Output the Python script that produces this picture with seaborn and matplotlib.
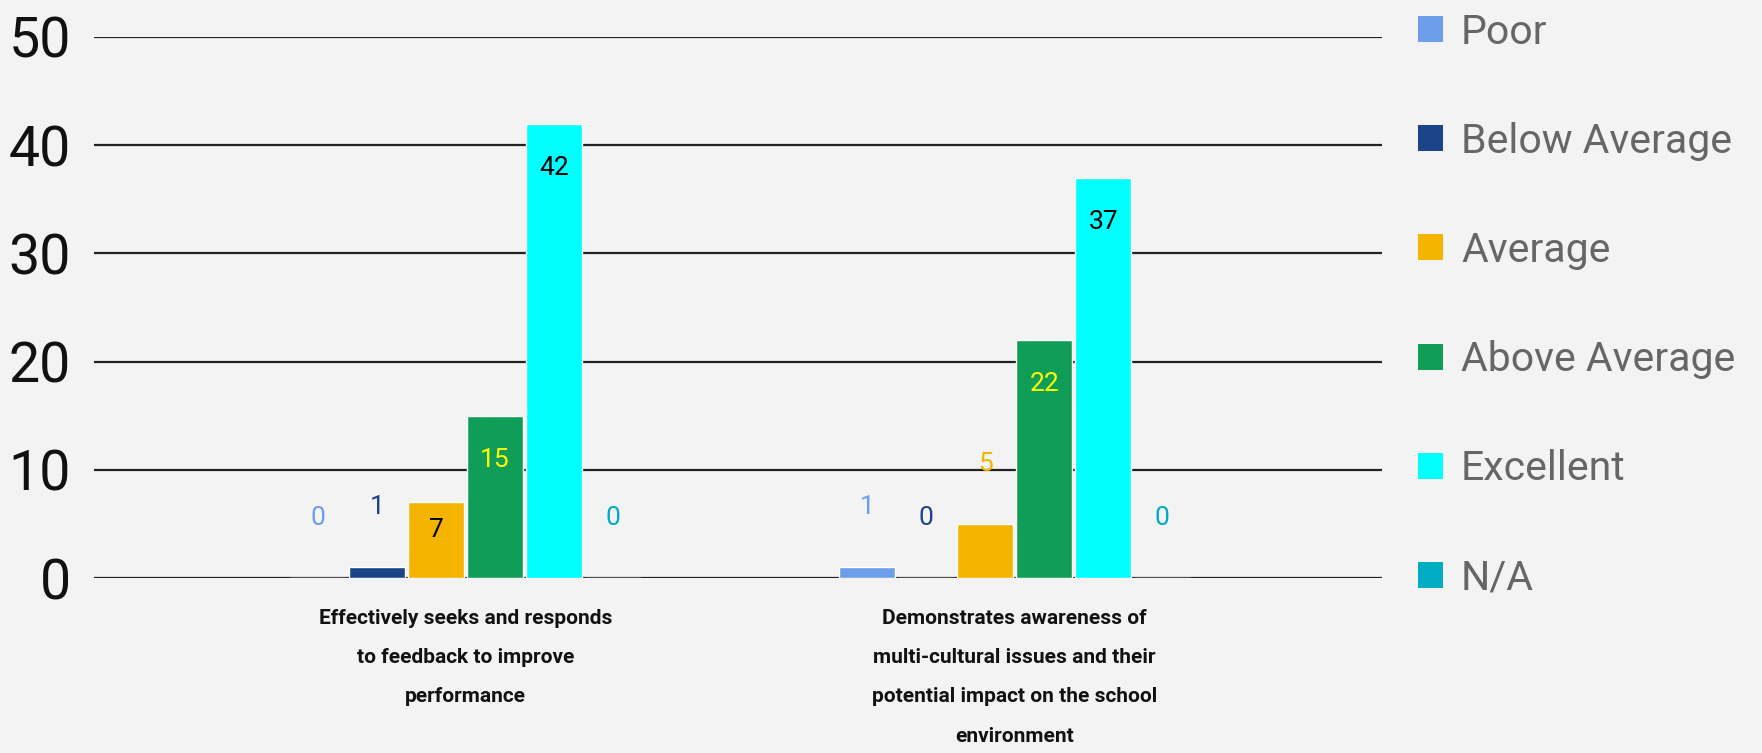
import matplotlib

matplotlib.use("Agg")
import matplotlib.pyplot as plt
import pandas as pd
import seaborn as sns
from matplotlib.patches import Patch

sns.set_theme(style="white")
plt.rcParams["font.family"] = ["Roboto", "DejaVu Sans"]

# data
items = [
    "Effectively seeks and responds\nto feedback to improve\nperformance",
    "Demonstrates awareness of\nmulti-cultural issues and their\npotential impact on the school\nenvironment",
]
ratings = ["Poor", "Below Average", "Average", "Above Average", "Excellent", "N/A"]
feedback_counts = [0, 1, 7, 15, 42, 0]
multicultural_counts = [1, 0, 5, 22, 37, 0]
yticks = [0, 10, 20, 30, 40, 50]

colors = ["#6d9eeb", "#1c4587", "#f4b400", "#0f9d58", "#00ffff", "#00acc1"]
inside_colors = ["#000000", "#ffffff", "#000000", "#ffff00", "#000000", "#000000"]

rows = []
for item, counts in zip(items, [feedback_counts, multicultural_counts]):
    for r, c in zip(ratings, counts):
        rows.append({"item": item, "rating": r, "count": c})
df = pd.DataFrame(rows)

bg = "#f3f3f3"
fig = plt.figure(figsize=(17.62, 7.53), dpi=100, facecolor=bg)
ax = fig.add_axes([0.0536, 0.2324, 0.731, 0.7185])
ax.set_facecolor(bg)

sns.barplot(
    data=df,
    x="item",
    y="count",
    hue="rating",
    hue_order=ratings,
    order=items,
    palette=dict(zip(ratings, colors)),
    width=0.645,
    gap=0.05,
    saturation=1,
    legend=False,
    ax=ax,
)

ax.set_ylim(0, 50)
ax.set_xlim(-0.676, 1.67)

# pixels per data unit on y, to keep inside labels within short bars
px_per_unit = ax.transData.transform((0, 1))[1] - ax.transData.transform((0, 0))[1]

# value labels: inside the bar near the top when tall enough, otherwise above it
for k, cont in enumerate(ax.containers):
    for patch in cont.patches:
        h = patch.get_height()
        x = patch.get_x() + patch.get_width() / 2
        if h >= 7:
            off_px = min(44, h * px_per_unit * 0.36)
            ax.annotate(
                f"{h:.0f}", (x, h), xytext=(0, -off_px * 0.72), textcoords="offset points",
                ha="center", va="center", fontsize=19, color=inside_colors[k],
            )
        else:
            ax.annotate(
                f"{h:.0f}", (x, h), xytext=(0, 43), textcoords="offset points",
                ha="center", va="center", fontsize=19, color=colors[k],
            )

ax.set_yticks(yticks)
ax.set_yticklabels([str(t) for t in yticks])
ax.yaxis.grid(True, color="#222222", linewidth=1.6)
ax.set_axisbelow(True)
ax.tick_params(axis="y", length=0, pad=17, labelsize=40, labelcolor="#111111")
ax.set_xticks(range(len(items)))
ax.set_xticklabels(items, fontsize=15, fontweight="bold", color="#111111", linespacing=2.36)
ax.tick_params(axis="x", length=0, pad=22)
ax.set_xlabel("")
ax.set_ylabel("")
sns.despine(ax=ax, left=True, bottom=True)

handles = [Patch(facecolor=c, edgecolor="none") for c in colors]
fig.legend(
    handles, ratings,
    loc="upper left", bbox_to_anchor=(0.8048, 0.983),
    frameon=False, fontsize=29.5, labelcolor="#666666",
    handlelength=0.6, handleheight=0.6, handletextpad=0.45,
    labelspacing=1.71, borderpad=0, borderaxespad=0,
)

fig.savefig("out.png", dpi=100, facecolor=bg)
